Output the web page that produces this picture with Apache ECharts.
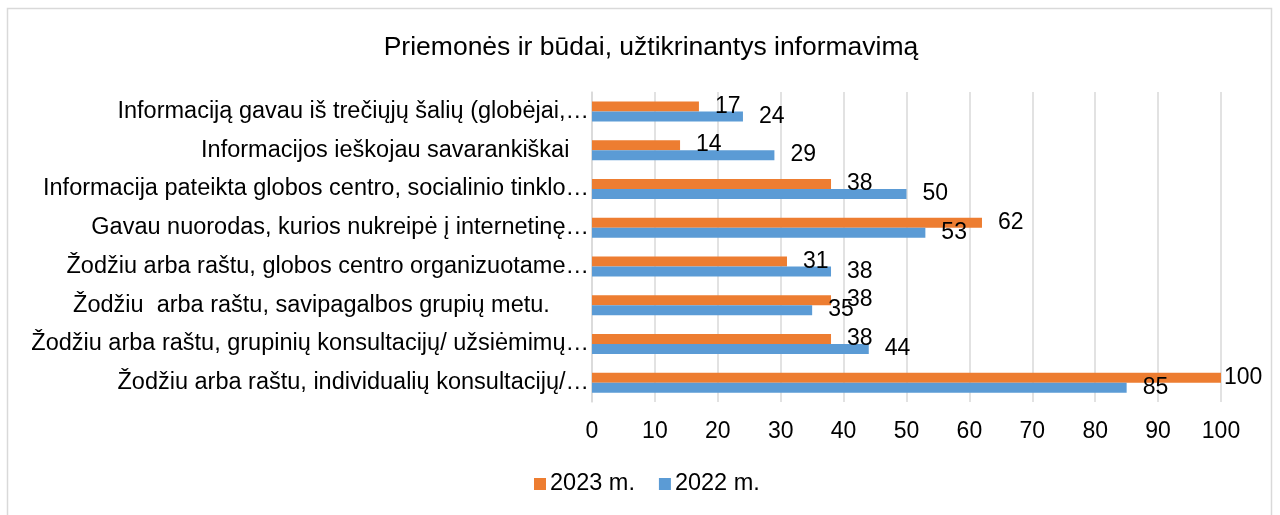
<!DOCTYPE html>
<html>
<head>
<meta charset="utf-8">
<script src="https://cdn.jsdelivr.net/npm/echarts@6/dist/echarts.min.js"></script>
<style>
    html, body { margin: 0; padding: 0; background: #fff; }
    #chart { width: 1280px; height: 515px; }
</style>
</head>
<body>
<div id="chart"></div>
<script>
// categories, top to bottom as in the picture
var categories = [
    "Informaciją gavau iš trečiųjų šalių (globėjai,…",
    "Informacijos ieškojau savarankiškai   ",
    "Informacija pateikta globos centro, socialinio tinklo…",
    "Gavau nuorodas, kurios nukreipė į internetinę…",
    "Žodžiu arba raštu, globos centro organizuotame…",
    "Žodžiu  arba raštu, savipagalbos grupių metu.      ",
    "Žodžiu arba raštu, grupinių konsultacijų/ užsiėmimų…",
    "Žodžiu arba raštu, individualių konsultacijų/…"
];
var values2023 = [17, 14, 38, 62, 31, 38, 38, 100];
var values2022 = [24, 29, 50, 53, 38, 35, 44, 85];
var seriesNames = ["2023 m.", "2022 m."];
var xTicks = { min: 0, max: 100, interval: 10 };

var font = "'Liberation Sans', Arial, sans-serif";

// labels that would run past the right edge sit closer to the bar
function barData(values) {
    return values.map(function (v) {
        if (v >= xTicks.max) {
            return { value: v, label: { distance: 3 } };
        }
        return v;
    });
}

var chart = echarts.init(document.getElementById('chart'));

chart.setOption({
    backgroundColor: '#fff',
    animation: false,
    textStyle: { fontFamily: font },
    title: {
        text: 'Priemonės ir būdai, užtikrinantys informavimą',
        left: 646,
        textAlign: 'center',
        top: 29,
        textStyle: { fontFamily: font, fontSize: 26.5, fontWeight: 'normal', color: '#000' }
    },
    legend: {
        data: seriesNames,
        left: 529,
        top: 467,
        itemWidth: 12,
        itemHeight: 12,
        itemGap: 24,
        icon: 'rect',
        textStyle: { fontFamily: font, fontSize: 23.5, color: '#000', padding: [0, 0, 0, -1] }
    },
    grid: {
        left: 592,
        right: 59,
        top: 92,
        bottom: 113,
        containLabel: false
    },
    xAxis: {
        type: 'value',
        min: xTicks.min,
        max: xTicks.max,
        interval: xTicks.interval,
        axisLine: { show: false },
        axisTick: { show: false },
        axisLabel: { fontFamily: font, fontSize: 23, color: '#000', margin: 18 },
        splitLine: { lineStyle: { color: '#d9d9d9', width: 1.5 } }
    },
    yAxis: {
        type: 'category',
        inverse: true,
        data: categories,
        axisLine: { show: true, lineStyle: { color: '#d9d9d9', width: 1.5 } },
        axisTick: { show: false },
        axisLabel: { fontFamily: font, fontSize: 23.5, color: '#000', margin: 3 }
    },
    series: [
        {
            name: seriesNames[0],
            type: 'bar',
            data: barData(values2023),
            barWidth: 10,
            barGap: '0%',
            itemStyle: { color: '#ED7D31' },
            label: {
                show: true,
                position: 'right',
                distance: 16,
                fontFamily: font,
                fontSize: 23,
                color: '#000'
            }
        },
        {
            name: seriesNames[1],
            type: 'bar',
            data: barData(values2022),
            barWidth: 10,
            barGap: '0%',
            itemStyle: { color: '#5B9BD5' },
            label: {
                show: true,
                position: 'right',
                distance: 16,
                fontFamily: font,
                fontSize: 23,
                color: '#000'
            }
        }
    ],
    graphic: [
        {
            type: 'rect',
            shape: { x: 7.5, y: 8.5, width: 1264, height: 510 },
            style: { fill: null, stroke: '#d9d9d9', lineWidth: 1.5 },
            silent: true
        }
    ]
});
</script>
</body>
</html>
